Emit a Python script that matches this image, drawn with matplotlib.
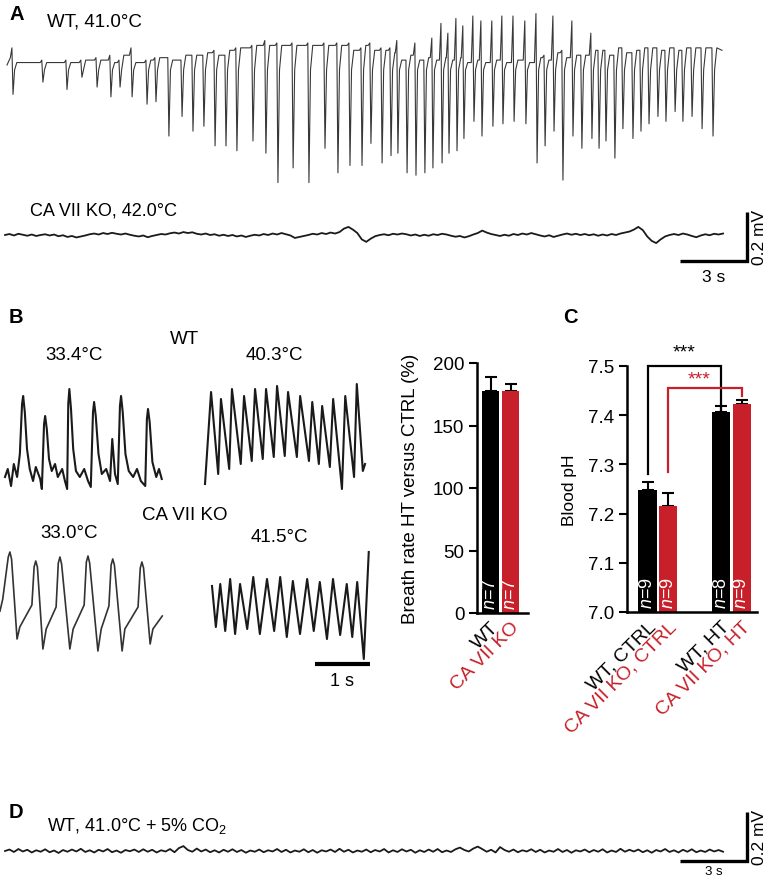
import matplotlib
matplotlib.use('Agg')
import matplotlib.pyplot as plt
import numpy as np
from matplotlib import font_manager

W, H, DPI = 768, 878, 100
names = {f.name for f in font_manager.fontManager.ttflist}
SANS = 'Liberation Sans' if 'Liberation Sans' in names else 'DejaVu Sans'
NARROW = 'Liberation Sans Narrow' if 'Liberation Sans Narrow' in names else SANS
plt.rcParams['font.family'] = [SANS, 'DejaVu Sans']
plt.rcParams['mathtext.fontset'] = 'custom'
plt.rcParams['mathtext.rm'] = SANS
plt.rcParams['mathtext.it'] = SANS + ':italic'
plt.rcParams['mathtext.bf'] = SANS + ':bold'

RED = '#c8202a'

# ---------------- data ----------------
# Panel A, WT 41.0 C: spike times (s), trough (mV), sharp peak before spike (mV), plateau level (mV)
wt_spike_t = [0.27, 1.61, 2.69, 3.36, 4.04, 4.66, 5.07, 5.61, 6.28, 6.68,
              7.26, 7.85, 8.34, 8.83, 9.33, 9.82, 10.31, 11.03, 11.61, 12.15,
              12.83, 13.54, 14.26, 14.84, 15.38, 15.92, 16.32, 16.82, 17.22, 17.53,
              17.94, 18.34, 18.74, 19.10, 19.51, 19.82, 20.18, 20.49, 20.94, 21.30,
              21.79, 22.24, 22.74, 23.27, 23.77, 24.13, 24.53, 24.93, 25.38, 25.78,
              26.23, 26.55, 26.86, 27.26, 27.62, 28.07, 28.43, 28.79, 29.19, 29.55,
              29.96, 30.31, 30.72, 31.17, 31.66]
wt_trough = [-0.12, -0.07, -0.10, -0.05, -0.09, -0.13, -0.09, -0.13, -0.16, -0.15,
             -0.29, -0.21, -0.27, -0.25, -0.33, -0.33, -0.35, -0.31, -0.36, -0.48,
             -0.42, -0.48, -0.34, -0.44, -0.41, -0.41, -0.32, -0.40, -0.37, -0.36,
             -0.44, -0.45, -0.44, -0.42, -0.40, -0.36, -0.35, -0.30, -0.23, -0.29,
             -0.25, -0.24, -0.23, -0.24, -0.40, -0.33, -0.27, -0.47, -0.29, -0.34,
             -0.30, -0.34, -0.31, -0.38, -0.26, -0.30, -0.27, -0.24, -0.21, -0.23,
             -0.19, -0.23, -0.21, -0.26, -0.29]
wt_peak = [0.07, 0.02, 0.02, 0.02, 0.03, 0.04, 0.02, 0.07, 0.02, 0.03,
           0.03, 0.02, 0.04, 0.04, 0.06, 0.04, 0.07, 0.08, 0.10, 0.09,
           0.09, 0.09, 0.09, 0.09, 0.09, 0.07, 0.09, 0.07, 0.07, 0.10,
           0.02, 0.09, 0.02, 0.11, 0.17, 0.13, 0.19, 0.16, 0.20, 0.18,
           0.18, 0.20, 0.20, 0.18, 0.21, 0.04, 0.20, 0.06, 0.18, 0.04,
           0.13, 0.06, 0.06, 0.04, 0.07, 0.05, 0.06, 0.07, 0.07, 0.06,
           0.07, 0.06, 0.07, 0.07, 0.07]
wt_plateau = [0.03, 0.01, 0.01, 0.01, 0.02, 0.02, 0.01, 0.04, 0.01, 0.02,
              0.03, 0.02, 0.04, 0.04, 0.05, 0.04, 0.06, 0.07, 0.08, 0.08,
              0.08, 0.08, 0.08, 0.08, 0.08, 0.06, 0.08, 0.06, 0.06, 0.05,
              0.02, 0.04, 0.02, 0.03, 0.02, 0.03, 0.02, 0.03, 0.01, 0.02,
              0.01, 0.02, 0.01, 0.02, 0.01, 0.03, 0.02, 0.05, 0.03, 0.04,
              0.04, 0.06, 0.06, 0.04, 0.07, 0.05, 0.06, 0.07, 0.07, 0.06,
              0.07, 0.06, 0.07, 0.07, 0.07]
wt_duration = 32.06

# Panel A, CA VII KO 42.0 C: values (uV) every 0.2 s
ko_dt = 0.2
ko_uv = [0, 4, -2, 5, 1, -3, 2, -4, 0, 3,
         -2, 2, -5, -1, -8, -4, -10, -6, -2, 3,
         6, 2, 8, 4, 9, 5, 2, 6, 1, -3,
         -6, -2, -9, -4, 0, 4, 2, 7, 10, 6,
         12, 8, 11, 5, 2, 6, 0, 3, -3, 1,
         -4, 0, -6, -2, -8, -3, 1, -2, 4, 0,
         6, 2, 8, 3, -2, -12, -8, -4, 0, 5,
         2, 8, 4, 10, 6, 12, 26, 33, 22, 8,
         -18, -28, -15, -5, 0, 3, -1, 5, 2, 6,
         3, -2, 2, -4, 1, -3, 3, 0, 5, 2,
         -3, -7, -4, -10, -5, 2, 8, 18, 10, 4,
         0, -4, 1, -3, 4, 0, 6, 2, 8, 3,
         -2, -6, -1, -8, -3, 2, 6, 1, 5, 0,
         4, -1, 3, -3, 2, -2, 4, 0, 6, 10,
         14, 22, 33, 20, -6, -24, -33, -18, -6, 0,
         4, 0, 6, 2, -4, -9, -2, 3, -1, 5,
         2, 6]

# Panel D, WT 41.0 C + 5% CO2: values (uV) every 0.2 s
d_dt = 0.2
d_uv = [0, 6, -4, 8, -2, 5, -6, 3, -3, 7,
        -5, 2, -8, 4, -3, 6, -2, 9, -4, 3,
        -6, 5, -2, 8, -5, 2, -7, 4, -1, 6,
        -4, 7, -3, 5, -6, 3, -2, 8, -5, 12,
        20, 4, -3, 10, -2, 6, -5, 3, -6, 5,
        -3, 7, -4, 4, -7, 2, -3, 6, -5, 3,
        -2, 8, -4, 5, -6, 2, -3, 7, -5, 4,
        -7, 3, -2, 6, -4, 9, -3, 5, -6, 2,
        -3, 6, -5, 4, -2, 8, -6, 3, -4, 7,
        -2, 5, -7, 3, -4, 6, -3, 8, -5, 2,
        -4, 7, 14, 4, -2, 10, 18, 8, -3, 5,
        -6, 16, 4, -3, 6, -5, 3, -2, 7, -4,
        5, -6, 2, -3, 8, -4, 4, -7, 3, -2,
        6, -5, 4, -3, 7, -6, 2, -4, 9, -3,
        5, -2, 6, -5, 3, -7, 4, -2, 8, -4,
        3, -6, 5, -3, 7, -5, 2, -4, 6, -2,
        4, -3]

# Panel B traces: (time s, amplitude a.u.)
b_wt_cold_t = [0.00, 0.05, 0.11, 0.16, 0.22, 0.27, 0.31, 0.33, 0.36, 0.40, 0.45, 0.51, 0.56,
               0.64, 0.67, 0.71, 0.73, 0.76, 0.80, 0.85, 0.91, 0.96, 1.04, 1.09, 1.13, 1.15,
               1.17, 1.20, 1.24, 1.29, 1.36, 1.44, 1.51, 1.56, 1.60, 1.62, 1.65, 1.70, 1.76,
               1.84, 1.91, 1.95, 2.00, 2.05, 2.09, 2.11, 2.14, 2.19, 2.25, 2.33, 2.40, 2.47,
               2.55, 2.58, 2.60, 2.63, 2.68, 2.75, 2.80, 2.85]
b_wt_cold_a = [-0.03, 0.05, -0.12, 0.10, -0.03, 0.20, 0.70, 0.78, 0.62, 0.25, 0.05, -0.07, 0.07,
               -0.05, -0.15, 0.50, 0.58, 0.45, 0.15, 0.03, 0.10, -0.03, 0.05, -0.07, -0.15, 0.70,
               0.85, 0.65, 0.25, 0.03, -0.03, 0.05, -0.07, -0.13, 0.62, 0.72, 0.58, 0.20, 0.00,
               0.05, -0.07, 0.35, 0.00, -0.10, 0.68, 0.78, 0.62, 0.20, 0.03, -0.03, 0.05, -0.07,
               -0.12, 0.55, 0.65, 0.52, 0.12, -0.03, 0.05, -0.05]
b_wt_hot_t = [0.00, 0.11, 0.24, 0.29, 0.44, 0.49, 0.65, 0.71, 0.85, 0.91, 1.05, 1.11, 1.25,
              1.31, 1.45, 1.51, 1.67, 1.73, 1.89, 1.95, 2.07, 2.13, 2.27, 2.33, 2.49, 2.55,
              2.71, 2.76, 2.87, 2.91]
b_wt_hot_a = [-0.15, 0.77, -0.05, 0.70, 0.00, 0.80, 0.05, 0.73, 0.08, 0.80, 0.10, 0.80, 0.12,
              0.83, 0.13, 0.77, 0.12, 0.73, 0.08, 0.67, 0.05, 0.63, 0.02, 0.70, -0.20, 0.73,
              -0.08, 0.85, -0.02, 0.05]
b_ko_cold_t = [0.00, 0.05, 0.15, 0.18, 0.21, 0.31, 0.36, 0.58, 0.62, 0.65, 0.68, 0.78, 0.84,
               1.02, 1.06, 1.09, 1.12, 1.27, 1.33, 1.53, 1.57, 1.60, 1.63, 1.78, 1.84, 1.98,
               2.02, 2.05, 2.08, 2.22, 2.27, 2.51, 2.55, 2.58, 2.61, 2.73, 2.78, 2.95]
b_ko_cold_a = [-0.02, 0.10, 0.52, 0.57, 0.50, -0.30, -0.18, 0.04, 0.42, 0.48, 0.42, -0.40, -0.20,
               0.02, 0.46, 0.52, 0.45, -0.40, -0.20, 0.04, 0.47, 0.53, 0.46, -0.42, -0.20, 0.03,
               0.44, 0.50, 0.44, -0.42, -0.20, 0.02, 0.41, 0.47, 0.41, -0.35, -0.20, -0.07]
b_ko_hot_t = [0.00, 0.07, 0.15, 0.24, 0.33, 0.42, 0.51, 0.64, 0.75, 0.87, 1.00, 1.13, 1.24,
              1.36, 1.47, 1.60, 1.73, 1.85, 1.96, 2.09, 2.20, 2.33, 2.45, 2.55, 2.64, 2.76, 2.85]
b_ko_hot_a = [0.23, -0.18, 0.25, -0.22, 0.30, -0.25, 0.25, -0.20, 0.32, -0.25, 0.30, -0.22, 0.32,
              -0.28, 0.28, -0.25, 0.30, -0.22, 0.27, -0.30, 0.30, -0.26, 0.25, -0.28, 0.27, -0.50, 0.57]

# Panel B bars
b_groups = ['WT', 'CA VII KO']
b_values = [178, 178]
b_errors = [11, 5]
b_n = [7, 7]
b_ticks = [0, 50, 100, 150, 200]

# Panel C bars
c_groups = ['WT, CTRL', 'CA VII KO, CTRL', 'WT, HT', 'CA VII KO, HT']
c_values = [7.247, 7.215, 7.407, 7.422]
c_errors = [0.018, 0.026, 0.012, 0.009]
c_n = [9, 9, 8, 9]
c_ticks = [7.0, 7.1, 7.2, 7.3, 7.4, 7.5]

# ---------------- figure ----------------
fig = plt.figure(figsize=(W / DPI, H / DPI), dpi=DPI)


def T(x, y, s, **kw):
    kw.setdefault('fontsize', 13.5)
    kw.setdefault('ha', 'left')
    kw.setdefault('va', 'center')
    return fig.text(x / W, 1 - y / H, s, **kw)


def trace_ax(ox, oy, sx, sy):
    ax = fig.add_axes([0, 0, 1, 1])
    ax.set_xlim(-ox / sx, (W - ox) / sx)
    ax.set_ylim(-(H - oy) / sy, oy / sy)
    ax.axis('off')
    ax.patch.set_alpha(0)
    return ax


def px_box(l, t, r, b):
    return [l / W, 1 - b / H, (r - l) / W, (b - t) / H]


SX, SY = 22.3, 245.0  # px per s, px per mV

# ---- Panel A WT
axA = trace_ax(7, 66, SX, SY)
tt, vv = [0.0], [0.0]
next_plat = wt_plateau[1:] + [wt_plateau[-1]]
for t, pk, tr, pl, pln in zip(wt_spike_t, wt_peak, wt_trough, wt_plateau, next_plat):
    tt += [t - 0.12, t - 0.05, t, t + 0.07, t + 0.17]
    vv += [pl, pk, tr, -0.02, pln]
tt += [wt_duration]
vv += [0.06]
axA.plot(tt, vv, color='#383838', lw=0.8)

# ---- Panel A KO
axK = trace_ax(5, 236, SX, SY)
tk = np.arange(len(ko_uv)) * ko_dt
axK.plot(tk, np.array(ko_uv) / 1000.0, color='#1a1a1a', lw=1.3)
xe = (747 - 5) / SX
axK.plot([xe - 3, xe, xe], [-0.106, -0.106, 0.094], color='black', lw=2.4,
         solid_joinstyle='miter', solid_capstyle='butt', clip_on=False)
axK.text(xe - 1.5, -0.106 - 16 / SY, '3 s', ha='center', va='center', fontsize=12.5, family=NARROW)
axK.text(xe + 13 / SX, -0.006, '0.2 mV', rotation=90, ha='center', va='center', fontsize=12.5)

# ---- Panel D
axD = trace_ax(5, 852, SX, SY)
td = np.arange(len(d_uv)) * d_dt
axD.plot(td, np.array(d_uv) / 1000.0, color='#1a1a1a', lw=1.3)
axD.plot([xe - 3, xe, xe], [-0.042, -0.042, 0.158], color='black', lw=2.4,
         solid_joinstyle='miter', solid_capstyle='butt', clip_on=False)
axD.text(xe - 1.5, -0.042 - 12.5 / SY, '3 s', ha='center', va='baseline', fontsize=9.5, family=NARROW)
axD.text(xe + 13 / SX, 0.058, '0.2 mV', rotation=90, ha='center', va='center', fontsize=12.5)

# ---- Panel B traces
BSX, BSY = 55.0, 100.0
ax1 = trace_ax(5, 475, BSX, BSY)
ax1.plot(b_wt_cold_t, b_wt_cold_a, color='#1a1a1a', lw=1.5)
ax2 = trace_ax(205, 470, BSX, BSY)
ax2.plot(b_wt_hot_t, b_wt_hot_a, color='#1a1a1a', lw=1.5)
ax3 = trace_ax(0, 610, BSX, BSY)
ax3.plot(b_ko_cold_t, b_ko_cold_a, color='#333333', lw=1.2)
ax4 = trace_ax(212, 610, BSX, BSY)
ax4.plot(b_ko_hot_t, b_ko_hot_a, color='#1a1a1a', lw=1.5)
x1 = (315 - 212) / BSX
ax4.plot([x1, x1 + 1], [-0.55, -0.55], color='black', lw=3.0, solid_capstyle='butt', clip_on=False)
ax4.text(x1 + 0.5, -0.72, '1 s', ha='center', va='center', fontsize=13)

# ---- texts
T(9, 15, 'A', fontsize=14.5, fontweight='bold')
T(47, 22, 'WT, 41.0°C', fontsize=13.5)
T(30, 211, 'CA VII KO, 42.0°C', fontsize=13, family=NARROW)
T(9, 318, 'B', fontsize=14.5, fontweight='bold')
T(184, 339, 'WT', ha='center')
T(74, 356, '33.4°C', ha='center')
T(274, 356, '40.3°C', ha='center')
T(185, 515, 'CA VII KO', ha='center')
T(69, 534, '33.0°C', ha='center')
T(279, 537, '41.5°C', ha='center')
T(563, 318, 'C', fontsize=14.5, fontweight='bold')
T(9, 813, 'D', fontsize=14.5, fontweight='bold')
T(47, 826, 'WT, 41.0°C + 5% CO$_2$', fontsize=13, family=NARROW)


def style_bar_ax(ax):
    for s in ['top', 'right']:
        ax.spines[s].set_visible(False)
    for s in ['left', 'bottom']:
        ax.spines[s].set_linewidth(1.8)
    ax.tick_params(axis='y', direction='out', length=6, width=1.5, labelsize=13.5, pad=3)
    ax.tick_params(axis='x', length=0, labelsize=14, pad=4)
    ax.patch.set_alpha(0)


# ---- Panel B bars
axB = fig.add_axes(px_box(477, 364, 528, 614))
xb = np.arange(len(b_groups))
axB.bar(xb, b_values, width=0.85, color=['black', RED], zorder=2)
axB.errorbar(xb, b_values, yerr=[np.zeros(len(xb)), b_errors], fmt='none', ecolor='black',
             elinewidth=1.5, capsize=4.5, capthick=1.5, zorder=1)
axB.set_xlim(-0.675, 1.875)
axB.set_ylim(0, 200)
axB.set_yticks(b_ticks)
axB.spines['left'].set_bounds(0, 200)
style_bar_ax(axB)
axB.set_xticks(xb)
axB.set_xticklabels(b_groups, rotation=45, ha='right', rotation_mode='anchor')
for lab, col in zip(axB.get_xticklabels(), ['black', RED]):
    lab.set_color(col)
for x, n in zip(xb, b_n):
    axB.text(x, 3, f'$n$={n}', rotation=90, color='white', ha='center', va='bottom', fontsize=13)
axB.set_ylabel('Breath rate HT versus CTRL (%)', fontsize=13.5, labelpad=10)

# ---- Panel C bars
axC = fig.add_axes(px_box(627, 367, 757, 613))
xc = np.array([0, 1, 3.6, 4.6])
axC.bar(xc, np.array(c_values) - 7.0, bottom=7.0, width=0.88,
        color=['black', RED, 'black', RED], zorder=2)
axC.errorbar(xc, c_values, yerr=[np.zeros(len(xc)), c_errors], fmt='none', ecolor='black',
             elinewidth=1.5, capsize=4.5, capthick=1.5, zorder=1)
axC.set_xlim(-1.0, 5.34)
axC.set_ylim(7.0, 7.5)
axC.set_yticks(c_ticks)
axC.set_yticklabels([f'{v:.1f}' for v in c_ticks])
style_bar_ax(axC)
axC.set_xticks(xc)
axC.set_xticklabels(c_groups, rotation=45, ha='right', rotation_mode='anchor')
for lab, col in zip(axC.get_xticklabels(), ['black', RED, 'black', RED]):
    lab.set_color(col)
for x, n in zip(xc, c_n):
    axC.text(x, 7.008, f'$n$={n}', rotation=90, color='white', ha='center', va='bottom', fontsize=13)
axC.set_ylabel('Blood pH', fontsize=12.5, labelpad=8)
# significance brackets
axC.plot([xc[0], xc[0], xc[2], xc[2]], [7.28, 7.5, 7.5, 7.386], color='black', lw=1.6,
         clip_on=False, solid_joinstyle='miter')
axC.plot([xc[1], xc[1], xc[3], xc[3]], [7.284, 7.455, 7.455, 7.439], color=RED, lw=1.6,
         clip_on=False, solid_joinstyle='miter')
axC.text((xc[0] + xc[2]) / 2, 7.528, '***', ha='center', va='center', fontsize=14, color='black')
axC.text((xc[1] + xc[3]) / 2 - 0.3, 7.474, '***', ha='center', va='center', fontsize=14, color=RED)

fig.savefig('out.png', dpi=DPI)
